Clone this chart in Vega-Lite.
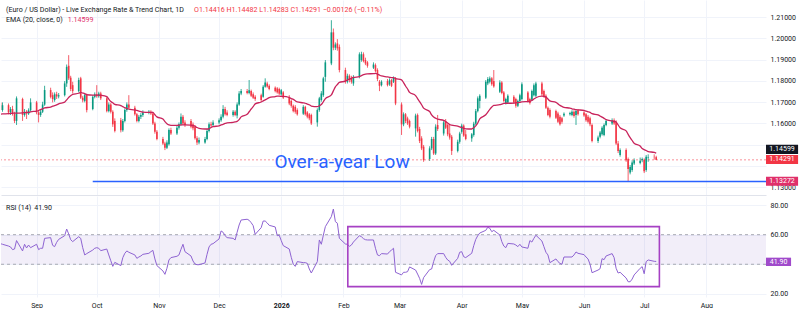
{
  "$schema": "https://vega.github.io/schema/vega-lite/v6.json",
  "padding": 0,
  "autosize": {"type": "pad"},
  "background": "white",
  "spacing": 1,
  "config": {
    "font": "Roboto",
    "view": {"stroke": null},
    "axis": {"labelFont": "Roboto", "labelFontSize": 7, "labelColor": "#131722", "labelOverlap": false},
    "scale": {"continuousPadding": 0}
  },
  "resolve": {"scale": {"x": "shared", "y": "independent"}},
  "datasets": {
    "bars": [
      {"d":"2025-08-14","o":1.1699,"h":1.1712,"l":1.1652,"c":1.1663,"e":1.1643,"r":53.9},
      {"d":"2025-08-15","o":1.1663,"h":1.1699,"l":1.1655,"c":1.1686,"e":1.1645,"r":53.5},
      {"d":"2025-08-18","o":1.1686,"h":1.1694,"l":1.1643,"c":1.1652,"e":1.1646,"r":52.3},
      {"d":"2025-08-19","o":1.1652,"h":1.1677,"l":1.1640,"c":1.1668,"e":1.1647,"r":51.7},
      {"d":"2025-08-20","o":1.1668,"h":1.1683,"l":1.1637,"c":1.1646,"e":1.1648,"r":49.9},
      {"d":"2025-08-21","o":1.1646,"h":1.1655,"l":1.1602,"c":1.1612,"e":1.1649,"r":50.3},
      {"d":"2025-08-22","o":1.1612,"h":1.1727,"l":1.1593,"c":1.1718,"e":1.1649,"r":56.0},
      {"d":"2025-08-25","o":1.1715,"h":1.1721,"l":1.1612,"c":1.1640,"e":1.1650,"r":49.0},
      {"d":"2025-08-26","o":1.1640,"h":1.1668,"l":1.1632,"c":1.1655,"e":1.1651,"r":53.5},
      {"d":"2025-08-27","o":1.1655,"h":1.1663,"l":1.1621,"c":1.1646,"e":1.1652,"r":51.0},
      {"d":"2025-08-28","o":1.1646,"h":1.1671,"l":1.1640,"c":1.1662,"e":1.1652,"r":53.0},
      {"d":"2025-08-29","o":1.1662,"h":1.1718,"l":1.1655,"c":1.1699,"e":1.1655,"r":51.2},
      {"d":"2025-09-01","o":1.1699,"h":1.1706,"l":1.1643,"c":1.1652,"e":1.1658,"r":53.5},
      {"d":"2025-09-02","o":1.1652,"h":1.1663,"l":1.1605,"c":1.1640,"e":1.1661,"r":49.9},
      {"d":"2025-09-03","o":1.1640,"h":1.1665,"l":1.1631,"c":1.1655,"e":1.1665,"r":50.8},
      {"d":"2025-09-04","o":1.1655,"h":1.1702,"l":1.1649,"c":1.1689,"e":1.1669,"r":50.8},
      {"d":"2025-09-05","o":1.1689,"h":1.1777,"l":1.1683,"c":1.1757,"e":1.1673,"r":57.5},
      {"d":"2025-09-08","o":1.1757,"h":1.1768,"l":1.1718,"c":1.1725,"e":1.1677,"r":58.0},
      {"d":"2025-09-09","o":1.1733,"h":1.1746,"l":1.1699,"c":1.1715,"e":1.1681,"r":52.8},
      {"d":"2025-09-10","o":1.1710,"h":1.1746,"l":1.1702,"c":1.1737,"e":1.1684,"r":51.9},
      {"d":"2025-09-11","o":1.1737,"h":1.1749,"l":1.1715,"c":1.1727,"e":1.1687,"r":54.8},
      {"d":"2025-09-12","o":1.1727,"h":1.1743,"l":1.1718,"c":1.1733,"e":1.1692,"r":56.8},
      {"d":"2025-09-15","o":1.1733,"h":1.1799,"l":1.1727,"c":1.1788,"e":1.1700,"r":59.3},
      {"d":"2025-09-16","o":1.1788,"h":1.1877,"l":1.1772,"c":1.1866,"e":1.1711,"r":63.8},
      {"d":"2025-09-17","o":1.1871,"h":1.1921,"l":1.1804,"c":1.1812,"e":1.1722,"r":60.5},
      {"d":"2025-09-18","o":1.1815,"h":1.1824,"l":1.1752,"c":1.1762,"e":1.1730,"r":56.6},
      {"d":"2025-09-19","o":1.1780,"h":1.1796,"l":1.1741,"c":1.1752,"e":1.1737,"r":55.3},
      {"d":"2025-09-22","o":1.1752,"h":1.1815,"l":1.1746,"c":1.1804,"e":1.1742,"r":58.6},
      {"d":"2025-09-23","o":1.1812,"h":1.1819,"l":1.1715,"c":1.1721,"e":1.1746,"r":57.5},
      {"d":"2025-09-24","o":1.1721,"h":1.1730,"l":1.1699,"c":1.1709,"e":1.1743,"r":51.2},
      {"d":"2025-09-25","o":1.1706,"h":1.1741,"l":1.1699,"c":1.1733,"e":1.1740,"r":46.3},
      {"d":"2025-09-26","o":1.1733,"h":1.1740,"l":1.1652,"c":1.1663,"e":1.1735,"r":47.2},
      {"d":"2025-09-29","o":1.1668,"h":1.1733,"l":1.1662,"c":1.1725,"e":1.1733,"r":49.6},
      {"d":"2025-09-30","o":1.1725,"h":1.1746,"l":1.1718,"c":1.1737,"e":1.1733,"r":50.8},
      {"d":"2025-10-01","o":1.1737,"h":1.1780,"l":1.1721,"c":1.1728,"e":1.1733,"r":51.2},
      {"d":"2025-10-02","o":1.1728,"h":1.1749,"l":1.1721,"c":1.1741,"e":1.1733,"r":50.8},
      {"d":"2025-10-03","o":1.1741,"h":1.1749,"l":1.1710,"c":1.1718,"e":1.1732,"r":49.2},
      {"d":"2025-10-06","o":1.1718,"h":1.1724,"l":1.1652,"c":1.1658,"e":1.1726,"r":50.3},
      {"d":"2025-10-07","o":1.1658,"h":1.1699,"l":1.1652,"c":1.1689,"e":1.1714,"r":46.3},
      {"d":"2025-10-08","o":1.1689,"h":1.1696,"l":1.1647,"c":1.1655,"e":1.1703,"r":42.4},
      {"d":"2025-10-09","o":1.1655,"h":1.1662,"l":1.1584,"c":1.1596,"e":1.1697,"r":38.6},
      {"d":"2025-10-10","o":1.1612,"h":1.1624,"l":1.1558,"c":1.1565,"e":1.1690,"r":41.3},
      {"d":"2025-10-13","o":1.1615,"h":1.1626,"l":1.1558,"c":1.1568,"e":1.1684,"r":39.1},
      {"d":"2025-10-14","o":1.1568,"h":1.1621,"l":1.1561,"c":1.1612,"e":1.1679,"r":44.5},
      {"d":"2025-10-15","o":1.1612,"h":1.1671,"l":1.1605,"c":1.1663,"e":1.1674,"r":47.4},
      {"d":"2025-10-16","o":1.1663,"h":1.1699,"l":1.1655,"c":1.1689,"e":1.1671,"r":49.0},
      {"d":"2025-10-17","o":1.1689,"h":1.1733,"l":1.1668,"c":1.1674,"e":1.1667,"r":48.1},
      {"d":"2025-10-20","o":1.1674,"h":1.1683,"l":1.1637,"c":1.1643,"e":1.1664,"r":46.3},
      {"d":"2025-10-21","o":1.1643,"h":1.1649,"l":1.1605,"c":1.1612,"e":1.1661,"r":44.0},
      {"d":"2025-10-22","o":1.1612,"h":1.1640,"l":1.1605,"c":1.1632,"e":1.1658,"r":44.9},
      {"d":"2025-10-23","o":1.1632,"h":1.1649,"l":1.1621,"c":1.1640,"e":1.1656,"r":45.6},
      {"d":"2025-10-24","o":1.1640,"h":1.1662,"l":1.1631,"c":1.1652,"e":1.1653,"r":46.7},
      {"d":"2025-10-27","o":1.1652,"h":1.1663,"l":1.1643,"c":1.1655,"e":1.1652,"r":47.4},
      {"d":"2025-10-28","o":1.1655,"h":1.1662,"l":1.1640,"c":1.1647,"e":1.1652,"r":48.5},
      {"d":"2025-10-29","o":1.1647,"h":1.1655,"l":1.1593,"c":1.1600,"e":1.1652,"r":49.4},
      {"d":"2025-10-30","o":1.1600,"h":1.1608,"l":1.1552,"c":1.1561,"e":1.1641,"r":43.6},
      {"d":"2025-10-31","o":1.1561,"h":1.1569,"l":1.1521,"c":1.1527,"e":1.1631,"r":39.1},
      {"d":"2025-11-03","o":1.1527,"h":1.1537,"l":1.1499,"c":1.1506,"e":1.1621,"r":35.5},
      {"d":"2025-11-04","o":1.1506,"h":1.1514,"l":1.1475,"c":1.1486,"e":1.1609,"r":33.2},
      {"d":"2025-11-05","o":1.1486,"h":1.1521,"l":1.1480,"c":1.1511,"e":1.1599,"r":37.3},
      {"d":"2025-11-06","o":1.1502,"h":1.1577,"l":1.1496,"c":1.1569,"e":1.1593,"r":42.9},
      {"d":"2025-11-07","o":1.1569,"h":1.1580,"l":1.1546,"c":1.1553,"e":1.1591,"r":44.5},
      {"d":"2025-11-10","o":1.1553,"h":1.1590,"l":1.1546,"c":1.1580,"e":1.1591,"r":45.4},
      {"d":"2025-11-11","o":1.1580,"h":1.1605,"l":1.1571,"c":1.1596,"e":1.1592,"r":46.3},
      {"d":"2025-11-12","o":1.1596,"h":1.1647,"l":1.1590,"c":1.1632,"e":1.1593,"r":50.1},
      {"d":"2025-11-13","o":1.1632,"h":1.1640,"l":1.1593,"c":1.1600,"e":1.1593,"r":53.5},
      {"d":"2025-11-14","o":1.1605,"h":1.1615,"l":1.1584,"c":1.1593,"e":1.1593,"r":48.5},
      {"d":"2025-11-17","o":1.1612,"h":1.1621,"l":1.1577,"c":1.1585,"e":1.1592,"r":45.6},
      {"d":"2025-11-18","o":1.1596,"h":1.1605,"l":1.1568,"c":1.1577,"e":1.1590,"r":42.2},
      {"d":"2025-11-19","o":1.1585,"h":1.1593,"l":1.1524,"c":1.1530,"e":1.1587,"r":40.2},
      {"d":"2025-11-20","o":1.1530,"h":1.1540,"l":1.1499,"c":1.1511,"e":1.1581,"r":39.7},
      {"d":"2025-11-21","o":1.1511,"h":1.1534,"l":1.1502,"c":1.1522,"e":1.1577,"r":39.7},
      {"d":"2025-11-24","o":1.1511,"h":1.1537,"l":1.1505,"c":1.1527,"e":1.1574,"r":40.9},
      {"d":"2025-11-25","o":1.1527,"h":1.1574,"l":1.1521,"c":1.1565,"e":1.1574,"r":46.7},
      {"d":"2025-11-26","o":1.1565,"h":1.1605,"l":1.1558,"c":1.1596,"e":1.1575,"r":51.7},
      {"d":"2025-11-27","o":1.1596,"h":1.1608,"l":1.1580,"c":1.1590,"e":1.1581,"r":53.5},
      {"d":"2025-11-28","o":1.1593,"h":1.1615,"l":1.1585,"c":1.1605,"e":1.1585,"r":53.9},
      {"d":"2025-12-01","o":1.1605,"h":1.1624,"l":1.1596,"c":1.1615,"e":1.1589,"r":57.1},
      {"d":"2025-12-02","o":1.1615,"h":1.1643,"l":1.1608,"c":1.1632,"e":1.1593,"r":62.5},
      {"d":"2025-12-03","o":1.1632,"h":1.1686,"l":1.1624,"c":1.1668,"e":1.1596,"r":61.6},
      {"d":"2025-12-04","o":1.1668,"h":1.1678,"l":1.1637,"c":1.1643,"e":1.1600,"r":59.3},
      {"d":"2025-12-05","o":1.1652,"h":1.1662,"l":1.1634,"c":1.1640,"e":1.1603,"r":58.0},
      {"d":"2025-12-08","o":1.1640,"h":1.1663,"l":1.1632,"c":1.1655,"e":1.1605,"r":57.5},
      {"d":"2025-12-09","o":1.1655,"h":1.1662,"l":1.1634,"c":1.1640,"e":1.1607,"r":56.4},
      {"d":"2025-12-10","o":1.1637,"h":1.1699,"l":1.1624,"c":1.1689,"e":1.1610,"r":61.6},
      {"d":"2025-12-11","o":1.1689,"h":1.1752,"l":1.1683,"c":1.1741,"e":1.1618,"r":66.5},
      {"d":"2025-12-12","o":1.1741,"h":1.1762,"l":1.1733,"c":1.1752,"e":1.1631,"r":69.9},
      {"d":"2025-12-15","o":1.1752,"h":1.1762,"l":1.1737,"c":1.1743,"e":1.1643,"r":70.4},
      {"d":"2025-12-16","o":1.1743,"h":1.1804,"l":1.1737,"c":1.1756,"e":1.1655,"r":69.7},
      {"d":"2025-12-17","o":1.1752,"h":1.1759,"l":1.1724,"c":1.1730,"e":1.1668,"r":68.1},
      {"d":"2025-12-18","o":1.1737,"h":1.1746,"l":1.1715,"c":1.1721,"e":1.1679,"r":66.1},
      {"d":"2025-12-19","o":1.1725,"h":1.1733,"l":1.1706,"c":1.1715,"e":1.1692,"r":60.2},
      {"d":"2025-12-22","o":1.1733,"h":1.1740,"l":1.1702,"c":1.1710,"e":1.1701,"r":64.7},
      {"d":"2025-12-23","o":1.1725,"h":1.1780,"l":1.1721,"c":1.1772,"e":1.1706,"r":69.2},
      {"d":"2025-12-24","o":1.1772,"h":1.1812,"l":1.1768,"c":1.1793,"e":1.1711,"r":69.2},
      {"d":"2025-12-25","o":1.1788,"h":1.1796,"l":1.1768,"c":1.1774,"e":1.1716,"r":67.9},
      {"d":"2025-12-26","o":1.1777,"h":1.1784,"l":1.1756,"c":1.1762,"e":1.1721,"r":66.3},
      {"d":"2025-12-29","o":1.1768,"h":1.1774,"l":1.1746,"c":1.1752,"e":1.1726,"r":65.2},
      {"d":"2025-12-30","o":1.1765,"h":1.1771,"l":1.1740,"c":1.1746,"e":1.1728,"r":59.3},
      {"d":"2025-12-31","o":1.1762,"h":1.1768,"l":1.1733,"c":1.1740,"e":1.1728,"r":59.6},
      {"d":"2026-01-01","o":1.1737,"h":1.1762,"l":1.1730,"c":1.1756,"e":1.1727,"r":56.0},
      {"d":"2026-01-02","o":1.1746,"h":1.1752,"l":1.1715,"c":1.1721,"e":1.1727,"r":52.6},
      {"d":"2026-01-05","o":1.1725,"h":1.1733,"l":1.1686,"c":1.1694,"e":1.1722,"r":50.3},
      {"d":"2026-01-06","o":1.1706,"h":1.1712,"l":1.1674,"c":1.1683,"e":1.1717,"r":44.7},
      {"d":"2026-01-07","o":1.1683,"h":1.1689,"l":1.1652,"c":1.1658,"e":1.1713,"r":40.0},
      {"d":"2026-01-08","o":1.1678,"h":1.1686,"l":1.1646,"c":1.1655,"e":1.1707,"r":38.6},
      {"d":"2026-01-09","o":1.1663,"h":1.1671,"l":1.1637,"c":1.1643,"e":1.1701,"r":41.8},
      {"d":"2026-01-12","o":1.1646,"h":1.1686,"l":1.1640,"c":1.1678,"e":1.1697,"r":41.1},
      {"d":"2026-01-13","o":1.1678,"h":1.1683,"l":1.1637,"c":1.1643,"e":1.1695,"r":41.1},
      {"d":"2026-01-14","o":1.1652,"h":1.1658,"l":1.1624,"c":1.1632,"e":1.1691,"r":40.6},
      {"d":"2026-01-15","o":1.1643,"h":1.1649,"l":1.1615,"c":1.1624,"e":1.1688,"r":36.8},
      {"d":"2026-01-16","o":1.1640,"h":1.1646,"l":1.1593,"c":1.1600,"e":1.1682,"r":34.1},
      {"d":"2026-01-19","o":1.1605,"h":1.1671,"l":1.1585,"c":1.1663,"e":1.1679,"r":41.8},
      {"d":"2026-01-20","o":1.1663,"h":1.1725,"l":1.1655,"c":1.1718,"e":1.1683,"r":56.4},
      {"d":"2026-01-21","o":1.1710,"h":1.1752,"l":1.1702,"c":1.1741,"e":1.1689,"r":53.5},
      {"d":"2026-01-22","o":1.1733,"h":1.1819,"l":1.1725,"c":1.1812,"e":1.1702,"r":59.6},
      {"d":"2026-01-23","o":1.1819,"h":1.1898,"l":1.1796,"c":1.1887,"e":1.1717,"r":65.4},
      {"d":"2026-01-26","o":1.1882,"h":1.2085,"l":1.1874,"c":1.2028,"e":1.1734,"r":72.2},
      {"d":"2026-01-27","o":1.2028,"h":1.2046,"l":1.1944,"c":1.1956,"e":1.1753,"r":77.3},
      {"d":"2026-01-28","o":1.1956,"h":1.1981,"l":1.1945,"c":1.1971,"e":1.1772,"r":68.8},
      {"d":"2026-01-29","o":1.1976,"h":1.1996,"l":1.1942,"c":1.1953,"e":1.1783,"r":67.7},
      {"d":"2026-01-30","o":1.1960,"h":1.1971,"l":1.1840,"c":1.1851,"e":1.1793,"r":57.5},
      {"d":"2026-02-02","o":1.1851,"h":1.1862,"l":1.1787,"c":1.1796,"e":1.1799,"r":53.7},
      {"d":"2026-02-03","o":1.1796,"h":1.1834,"l":1.1788,"c":1.1824,"e":1.1804,"r":53.5},
      {"d":"2026-02-04","o":1.1824,"h":1.1831,"l":1.1793,"c":1.1804,"e":1.1808,"r":52.1},
      {"d":"2026-02-05","o":1.1815,"h":1.1824,"l":1.1787,"c":1.1796,"e":1.1812,"r":53.0},
      {"d":"2026-02-06","o":1.1788,"h":1.1827,"l":1.1777,"c":1.1819,"e":1.1816,"r":55.0},
      {"d":"2026-02-09","o":1.1819,"h":1.1934,"l":1.1812,"c":1.1925,"e":1.1820,"r":59.3},
      {"d":"2026-02-10","o":1.1898,"h":1.1937,"l":1.1890,"c":1.1925,"e":1.1825,"r":58.6},
      {"d":"2026-02-11","o":1.1925,"h":1.1934,"l":1.1887,"c":1.1893,"e":1.1829,"r":57.3},
      {"d":"2026-02-12","o":1.1898,"h":1.1909,"l":1.1874,"c":1.1882,"e":1.1832,"r":56.6},
      {"d":"2026-02-13","o":1.1887,"h":1.1893,"l":1.1862,"c":1.1871,"e":1.1833,"r":56.4},
      {"d":"2026-02-16","o":1.1862,"h":1.1887,"l":1.1856,"c":1.1877,"e":1.1834,"r":56.4},
      {"d":"2026-02-17","o":1.1874,"h":1.1882,"l":1.1840,"c":1.1846,"e":1.1835,"r":50.8},
      {"d":"2026-02-18","o":1.1851,"h":1.1859,"l":1.1799,"c":1.1809,"e":1.1832,"r":46.3},
      {"d":"2026-02-19","o":1.1796,"h":1.1804,"l":1.1752,"c":1.1777,"e":1.1827,"r":45.8},
      {"d":"2026-02-20","o":1.1780,"h":1.1803,"l":1.1774,"c":1.1796,"e":1.1823,"r":47.2},
      {"d":"2026-02-23","o":1.1799,"h":1.1809,"l":1.1774,"c":1.1780,"e":1.1819,"r":46.9},
      {"d":"2026-02-24","o":1.1784,"h":1.1812,"l":1.1777,"c":1.1803,"e":1.1817,"r":48.5},
      {"d":"2026-02-25","o":1.1803,"h":1.1809,"l":1.1771,"c":1.1777,"e":1.1815,"r":49.6},
      {"d":"2026-02-26","o":1.1796,"h":1.1821,"l":1.1790,"c":1.1815,"e":1.1815,"r":50.8},
      {"d":"2026-02-27","o":1.1812,"h":1.1818,"l":1.1686,"c":1.1694,"e":1.1811,"r":34.6},
      {"d":"2026-03-02","o":1.1689,"h":1.1699,"l":1.1546,"c":1.1596,"e":1.1805,"r":32.8},
      {"d":"2026-03-03","o":1.1596,"h":1.1652,"l":1.1587,"c":1.1643,"e":1.1792,"r":34.6},
      {"d":"2026-03-04","o":1.1643,"h":1.1649,"l":1.1602,"c":1.1612,"e":1.1776,"r":34.6},
      {"d":"2026-03-05","o":1.1624,"h":1.1632,"l":1.1593,"c":1.1600,"e":1.1762,"r":35.0},
      {"d":"2026-03-06","o":1.1612,"h":1.1618,"l":1.1577,"c":1.1585,"e":1.1746,"r":38.2},
      {"d":"2026-03-09","o":1.1577,"h":1.1646,"l":1.1538,"c":1.1637,"e":1.1731,"r":36.1},
      {"d":"2026-03-10","o":1.1640,"h":1.1647,"l":1.1558,"c":1.1565,"e":1.1717,"r":33.4},
      {"d":"2026-03-11","o":1.1574,"h":1.1584,"l":1.1508,"c":1.1518,"e":1.1703,"r":30.5},
      {"d":"2026-03-12","o":1.1530,"h":1.1540,"l":1.1475,"c":1.1483,"e":1.1688,"r":26.4},
      {"d":"2026-03-13","o":1.1491,"h":1.1499,"l":1.1420,"c":1.1428,"e":1.1672,"r":31.0},
      {"d":"2026-03-16","o":1.1433,"h":1.1493,"l":1.1424,"c":1.1483,"e":1.1656,"r":36.4},
      {"d":"2026-03-17","o":1.1483,"h":1.1537,"l":1.1475,"c":1.1527,"e":1.1640,"r":36.8},
      {"d":"2026-03-18","o":1.1527,"h":1.1537,"l":1.1452,"c":1.1459,"e":1.1630,"r":41.8},
      {"d":"2026-03-19","o":1.1459,"h":1.1596,"l":1.1452,"c":1.1585,"e":1.1625,"r":45.8},
      {"d":"2026-03-20","o":1.1593,"h":1.1640,"l":1.1565,"c":1.1574,"e":1.1620,"r":47.2},
      {"d":"2026-03-23","o":1.1553,"h":1.1615,"l":1.1543,"c":1.1605,"e":1.1615,"r":47.2},
      {"d":"2026-03-24","o":1.1612,"h":1.1621,"l":1.1574,"c":1.1580,"e":1.1609,"r":44.7},
      {"d":"2026-03-25","o":1.1593,"h":1.1599,"l":1.1540,"c":1.1549,"e":1.1602,"r":42.9},
      {"d":"2026-03-26","o":1.1553,"h":1.1596,"l":1.1524,"c":1.1534,"e":1.1595,"r":42.0},
      {"d":"2026-03-27","o":1.1538,"h":1.1546,"l":1.1452,"c":1.1471,"e":1.1592,"r":39.3},
      {"d":"2026-03-30","o":1.1471,"h":1.1524,"l":1.1464,"c":1.1514,"e":1.1588,"r":44.0},
      {"d":"2026-03-31","o":1.1514,"h":1.1561,"l":1.1505,"c":1.1553,"e":1.1584,"r":48.1},
      {"d":"2026-04-01","o":1.1561,"h":1.1599,"l":1.1552,"c":1.1590,"e":1.1580,"r":48.5},
      {"d":"2026-04-02","o":1.1590,"h":1.1596,"l":1.1537,"c":1.1543,"e":1.1577,"r":45.1},
      {"d":"2026-04-03","o":1.1549,"h":1.1569,"l":1.1521,"c":1.1527,"e":1.1575,"r":44.5},
      {"d":"2026-04-06","o":1.1530,"h":1.1555,"l":1.1514,"c":1.1549,"e":1.1574,"r":47.4},
      {"d":"2026-04-07","o":1.1546,"h":1.1608,"l":1.1538,"c":1.1599,"e":1.1580,"r":52.6},
      {"d":"2026-04-08","o":1.1599,"h":1.1668,"l":1.1593,"c":1.1658,"e":1.1589,"r":56.8},
      {"d":"2026-04-09","o":1.1658,"h":1.1727,"l":1.1652,"c":1.1718,"e":1.1602,"r":59.3},
      {"d":"2026-04-10","o":1.1706,"h":1.1737,"l":1.1671,"c":1.1730,"e":1.1622,"r":61.1},
      {"d":"2026-04-13","o":1.1721,"h":1.1804,"l":1.1715,"c":1.1796,"e":1.1641,"r":62.9},
      {"d":"2026-04-14","o":1.1788,"h":1.1818,"l":1.1780,"c":1.1809,"e":1.1653,"r":65.0},
      {"d":"2026-04-15","o":1.1796,"h":1.1821,"l":1.1788,"c":1.1812,"e":1.1666,"r":64.3},
      {"d":"2026-04-16","o":1.1812,"h":1.1818,"l":1.1777,"c":1.1784,"e":1.1677,"r":62.0},
      {"d":"2026-04-17","o":1.1799,"h":1.1851,"l":1.1768,"c":1.1774,"e":1.1685,"r":62.9},
      {"d":"2026-04-20","o":1.1749,"h":1.1803,"l":1.1743,"c":1.1793,"e":1.1688,"r":59.8},
      {"d":"2026-04-21","o":1.1793,"h":1.1799,"l":1.1737,"c":1.1743,"e":1.1691,"r":55.3},
      {"d":"2026-04-22","o":1.1746,"h":1.1752,"l":1.1699,"c":1.1706,"e":1.1694,"r":52.3},
      {"d":"2026-04-23","o":1.1696,"h":1.1721,"l":1.1689,"c":1.1715,"e":1.1695,"r":51.2},
      {"d":"2026-04-24","o":1.1699,"h":1.1737,"l":1.1692,"c":1.1730,"e":1.1695,"r":54.1},
      {"d":"2026-04-27","o":1.1725,"h":1.1733,"l":1.1692,"c":1.1699,"e":1.1696,"r":53.7},
      {"d":"2026-04-28","o":1.1715,"h":1.1721,"l":1.1674,"c":1.1683,"e":1.1697,"r":53.0},
      {"d":"2026-04-29","o":1.1683,"h":1.1712,"l":1.1677,"c":1.1706,"e":1.1698,"r":51.9},
      {"d":"2026-04-30","o":1.1706,"h":1.1740,"l":1.1699,"c":1.1733,"e":1.1699,"r":53.5},
      {"d":"2026-05-01","o":1.1715,"h":1.1793,"l":1.1709,"c":1.1784,"e":1.1701,"r":51.7},
      {"d":"2026-05-04","o":1.1746,"h":1.1752,"l":1.1699,"c":1.1706,"e":1.1703,"r":50.8},
      {"d":"2026-05-05","o":1.1715,"h":1.1721,"l":1.1689,"c":1.1696,"e":1.1704,"r":56.0},
      {"d":"2026-05-06","o":1.1712,"h":1.1759,"l":1.1706,"c":1.1752,"e":1.1708,"r":55.0},
      {"d":"2026-05-07","o":1.1733,"h":1.1788,"l":1.1727,"c":1.1780,"e":1.1715,"r":57.5},
      {"d":"2026-05-08","o":1.1730,"h":1.1796,"l":1.1724,"c":1.1788,"e":1.1721,"r":59.6},
      {"d":"2026-05-11","o":1.1788,"h":1.1796,"l":1.1730,"c":1.1737,"e":1.1728,"r":55.7},
      {"d":"2026-05-12","o":1.1752,"h":1.1759,"l":1.1721,"c":1.1727,"e":1.1727,"r":51.9},
      {"d":"2026-05-13","o":1.1730,"h":1.1737,"l":1.1668,"c":1.1674,"e":1.1724,"r":48.1},
      {"d":"2026-05-14","o":1.1674,"h":1.1680,"l":1.1634,"c":1.1640,"e":1.1715,"r":46.3},
      {"d":"2026-05-15","o":1.1663,"h":1.1671,"l":1.1624,"c":1.1632,"e":1.1706,"r":41.1},
      {"d":"2026-05-18","o":1.1658,"h":1.1665,"l":1.1621,"c":1.1627,"e":1.1699,"r":43.6},
      {"d":"2026-05-19","o":1.1647,"h":1.1655,"l":1.1602,"c":1.1608,"e":1.1692,"r":41.8},
      {"d":"2026-05-20","o":1.1632,"h":1.1640,"l":1.1590,"c":1.1596,"e":1.1685,"r":40.6},
      {"d":"2026-05-21","o":1.1624,"h":1.1631,"l":1.1599,"c":1.1608,"e":1.1680,"r":40.0},
      {"d":"2026-05-22","o":1.1637,"h":1.1652,"l":1.1631,"c":1.1646,"e":1.1676,"r":44.9},
      {"d":"2026-05-25","o":1.1643,"h":1.1655,"l":1.1637,"c":1.1649,"e":1.1672,"r":44.9},
      {"d":"2026-05-26","o":1.1640,"h":1.1662,"l":1.1634,"c":1.1655,"e":1.1669,"r":44.9},
      {"d":"2026-05-27","o":1.1655,"h":1.1662,"l":1.1627,"c":1.1635,"e":1.1667,"r":46.3},
      {"d":"2026-05-28","o":1.1640,"h":1.1665,"l":1.1593,"c":1.1658,"e":1.1665,"r":48.3},
      {"d":"2026-05-29","o":1.1662,"h":1.1668,"l":1.1637,"c":1.1643,"e":1.1664,"r":47.4},
      {"d":"2026-06-01","o":1.1652,"h":1.1658,"l":1.1631,"c":1.1637,"e":1.1661,"r":46.5},
      {"d":"2026-06-02","o":1.1643,"h":1.1649,"l":1.1608,"c":1.1615,"e":1.1658,"r":44.9},
      {"d":"2026-06-03","o":1.1632,"h":1.1640,"l":1.1600,"c":1.1608,"e":1.1655,"r":43.6},
      {"d":"2026-06-04","o":1.1624,"h":1.1632,"l":1.1587,"c":1.1596,"e":1.1652,"r":40.0},
      {"d":"2026-06-05","o":1.1593,"h":1.1600,"l":1.1511,"c":1.1518,"e":1.1646,"r":34.3},
      {"d":"2026-06-08","o":1.1518,"h":1.1543,"l":1.1508,"c":1.1534,"e":1.1640,"r":36.1},
      {"d":"2026-06-09","o":1.1538,"h":1.1565,"l":1.1530,"c":1.1558,"e":1.1635,"r":37.0},
      {"d":"2026-06-10","o":1.1549,"h":1.1587,"l":1.1543,"c":1.1580,"e":1.1630,"r":43.8},
      {"d":"2026-06-11","o":1.1546,"h":1.1600,"l":1.1540,"c":1.1593,"e":1.1624,"r":43.1},
      {"d":"2026-06-12","o":1.1593,"h":1.1621,"l":1.1587,"c":1.1612,"e":1.1618,"r":45.6},
      {"d":"2026-06-15","o":1.1600,"h":1.1624,"l":1.1593,"c":1.1615,"e":1.1612,"r":47.2},
      {"d":"2026-06-16","o":1.1615,"h":1.1624,"l":1.1593,"c":1.1600,"e":1.1610,"r":44.5},
      {"d":"2026-06-17","o":1.1608,"h":1.1615,"l":1.1499,"c":1.1506,"e":1.1607,"r":37.3},
      {"d":"2026-06-18","o":1.1506,"h":1.1518,"l":1.1461,"c":1.1471,"e":1.1593,"r":34.1},
      {"d":"2026-06-19","o":1.1452,"h":1.1483,"l":1.1444,"c":1.1475,"e":1.1580,"r":34.6},
      {"d":"2026-06-22","o":1.1475,"h":1.1483,"l":1.1420,"c":1.1427,"e":1.1565,"r":30.7},
      {"d":"2026-06-23","o":1.1433,"h":1.1440,"l":1.1328,"c":1.1386,"e":1.1549,"r":28.2},
      {"d":"2026-06-24","o":1.1370,"h":1.1405,"l":1.1361,"c":1.1396,"e":1.1534,"r":28.2},
      {"d":"2026-06-25","o":1.1381,"h":1.1427,"l":1.1373,"c":1.1417,"e":1.1520,"r":30.0},
      {"d":"2026-06-26","o":1.1412,"h":1.1436,"l":1.1405,"c":1.1427,"e":1.1507,"r":32.8},
      {"d":"2026-06-29","o":1.1414,"h":1.1440,"l":1.1408,"c":1.1425,"e":1.1494,"r":37.3},
      {"d":"2026-06-30","o":1.1427,"h":1.1440,"l":1.1418,"c":1.1433,"e":1.1482,"r":38.4},
      {"d":"2026-07-01","o":1.1430,"h":1.1436,"l":1.1367,"c":1.1376,"e":1.1477,"r":33.6},
      {"d":"2026-07-02","o":1.1381,"h":1.1452,"l":1.1373,"c":1.1444,"e":1.1473,"r":41.8},
      {"d":"2026-07-03","o":1.1440,"h":1.1455,"l":1.1420,"c":1.1443,"e":1.1468,"r":42.9},
      {"d":"2026-07-06","o":1.1443,"h":1.1455,"l":1.1430,"c":1.1442,"e":1.1464,"r":42.0},
      {"d":"2026-07-07","o":1.14416,"h":1.14482,"l":1.14283,"c":1.14291,"e":1.14599,"r":41.9}
    ]
  },
  "vconcat": [
    {
      "width": 765,
      "height": 195,
      "layer": [
        {
          "data": {"name": "bars"},
          "mark": {"type": "rule", "strokeWidth": 0.8, "clip": true},
          "encoding": {
            "x": {"field": "d", "type": "temporal",
              "scale": {"type": "utc", "nice": false, "padding": 0, "domain": [{"year": 2025, "month": 8, "date": 14, "hours": 6, "utc": true}, {"year": 2026, "month": 8, "date": 30, "hours": 18, "utc": true}]},
              "axis": {"title": null, "labels": false, "ticks": false, "domain": true, "domainColor": "#E0E3EB", "grid": true, "gridColor": "#F0F3FA", "tickCount": {"interval": "month", "step": 1}}},
            "y": {"field": "l", "type": "quantitative",
              "scale": {"domain": [1.1264, 1.218], "zero": false, "nice": false, "padding": 0},
              "axis": {"title": null, "orient": "right", "values": [1.13, 1.14, 1.15, 1.16, 1.17, 1.18, 1.19, 1.2, 1.21], "format": ".5f", "labelOverlap": false, "labelExpr": "abs(datum.value - 1.14) < 0.001 || abs(datum.value - 1.15) < 0.001 ? '' : datum.label", "grid": true, "gridColor": "#F0F3FA", "ticks": false, "domain": false, "labelPadding": 4}},
            "y2": {"field": "h"},
            "color": {"condition": {"test": "datum.c >= datum.o", "value": "#089981"}, "value": "#F23645"}
          }
        },
        {
          "data": {"values": [{}]},
          "mark": {"type": "rule", "color": "#F23645", "strokeDash": [2, 2], "strokeWidth": 1, "opacity": 0.55},
          "encoding": {"y": {"datum": 1.14291, "type": "quantitative",
            "axis": {"title": null, "orient": "right", "values": [1.13, 1.14, 1.15, 1.16, 1.17, 1.18, 1.19, 1.2, 1.21], "format": ".5f", "labelOverlap": false, "labelExpr": "abs(datum.value - 1.14) < 0.001 || abs(datum.value - 1.15) < 0.001 ? '' : datum.label", "grid": true, "gridColor": "#F0F3FA", "ticks": false, "domain": false, "labelPadding": 4}}}
        },
        {
          "data": {"name": "bars"},
          "mark": {"type": "bar", "size": 1.6, "clip": true},
          "encoding": {
            "x": {"field": "d", "type": "temporal",
              "scale": {"type": "utc", "nice": false, "padding": 0, "domain": [{"year": 2025, "month": 8, "date": 14, "hours": 6, "utc": true}, {"year": 2026, "month": 8, "date": 30, "hours": 18, "utc": true}]}},
            "y": {"field": "o", "type": "quantitative",
              "axis": {"title": null, "orient": "right", "values": [1.13, 1.14, 1.15, 1.16, 1.17, 1.18, 1.19, 1.2, 1.21], "format": ".5f", "labelOverlap": false, "labelExpr": "abs(datum.value - 1.14) < 0.001 || abs(datum.value - 1.15) < 0.001 ? '' : datum.label", "grid": true, "gridColor": "#F0F3FA", "ticks": false, "domain": false, "labelPadding": 4}},
            "y2": {"field": "c"},
            "color": {"condition": {"test": "datum.c >= datum.o", "value": "#089981"}, "value": "#F23645"}
          }
        },
        {
          "data": {"name": "bars"},
          "mark": {"type": "line", "color": "#C8235B", "strokeWidth": 1.3, "clip": true, "interpolate": "monotone"},
          "encoding": {
            "x": {"field": "d", "type": "temporal",
              "scale": {"type": "utc", "nice": false, "padding": 0, "domain": [{"year": 2025, "month": 8, "date": 14, "hours": 6, "utc": true}, {"year": 2026, "month": 8, "date": 30, "hours": 18, "utc": true}]}},
            "y": {"field": "e", "type": "quantitative",
              "axis": {"title": null, "orient": "right", "values": [1.13, 1.14, 1.15, 1.16, 1.17, 1.18, 1.19, 1.2, 1.21], "format": ".5f", "labelOverlap": false, "labelExpr": "abs(datum.value - 1.14) < 0.001 || abs(datum.value - 1.15) < 0.001 ? '' : datum.label", "grid": true, "gridColor": "#F0F3FA", "ticks": false, "domain": false, "labelPadding": 4}}
          }
        },
        {
          "data": {"values": [{"txt": "Over-a-year Low"}]},
          "mark": {"type": "text", "font": "Roboto", "fontSize": 19, "color": "#2962FF", "align": "center", "baseline": "middle"},
          "encoding": {
            "x": {"datum": {"year": 2026, "month": 1, "date": 31, "hours": 8, "utc": true}, "type": "temporal",
              "scale": {"type": "utc", "nice": false, "padding": 0, "domain": [{"year": 2025, "month": 8, "date": 14, "hours": 6, "utc": true}, {"year": 2026, "month": 8, "date": 30, "hours": 18, "utc": true}]}},
            "y": {"datum": 1.1418, "type": "quantitative",
              "axis": {"title": null, "orient": "right", "values": [1.13, 1.14, 1.15, 1.16, 1.17, 1.18, 1.19, 1.2, 1.21], "format": ".5f", "labelOverlap": false, "labelExpr": "abs(datum.value - 1.14) < 0.001 || abs(datum.value - 1.15) < 0.001 ? '' : datum.label", "grid": true, "gridColor": "#F0F3FA", "ticks": false, "domain": false, "labelPadding": 4}},
            "text": {"field": "txt"}
          }
        },
        {
          "data": {"values": [{}]},
          "mark": {"type": "rule", "color": "#2962FF", "strokeWidth": 1.5},
          "encoding": {
            "x": {"datum": {"year": 2025, "month": 9, "date": 29, "utc": true}, "type": "temporal",
              "scale": {"type": "utc", "nice": false, "padding": 0, "domain": [{"year": 2025, "month": 8, "date": 14, "hours": 6, "utc": true}, {"year": 2026, "month": 8, "date": 30, "hours": 18, "utc": true}]}},
            "x2": {"datum": {"year": 2026, "month": 8, "date": 30, "hours": 18, "utc": true}},
            "y": {"datum": 1.13272, "type": "quantitative",
              "axis": {"title": null, "orient": "right", "values": [1.13, 1.14, 1.15, 1.16, 1.17, 1.18, 1.19, 1.2, 1.21], "format": ".5f", "labelOverlap": false, "labelExpr": "abs(datum.value - 1.14) < 0.001 || abs(datum.value - 1.15) < 0.001 ? '' : datum.label", "grid": true, "gridColor": "#F0F3FA", "ticks": false, "domain": false, "labelPadding": 4}}
          }
        },
        {
          "data": {"values": [
            {"t": "(Euro / US Dollar) - Live Exchange Rate & Trend Chart, 1D", "k": "dark", "x": "2025-08-16T18:00:00Z", "p": 1.21329},
            {"t": "O1.14416  H1.14482  L1.14283  C1.14291  −0.00126 (−0.11%)", "k": "red", "x": "2025-11-18T13:00:00Z", "p": 1.21329},
            {"t": "EMA (20, close, 0)", "k": "dark", "x": "2025-08-16T18:00:00Z", "p": 1.20859},
            {"t": "1.14599", "k": "pink", "x": "2025-09-16T12:00:00Z", "p": 1.20859}
          ]},
          "mark": {"type": "text", "fontSize": 7.1, "align": "left", "baseline": "middle"},
          "encoding": {
            "x": {"field": "x", "type": "temporal",
              "scale": {"type": "utc", "nice": false, "padding": 0, "domain": [{"year": 2025, "month": 8, "date": 14, "hours": 6, "utc": true}, {"year": 2026, "month": 8, "date": 30, "hours": 18, "utc": true}]}},
            "y": {"field": "p", "type": "quantitative",
              "axis": {"title": null, "orient": "right", "values": [1.13, 1.14, 1.15, 1.16, 1.17, 1.18, 1.19, 1.2, 1.21], "format": ".5f", "labelOverlap": false, "labelExpr": "abs(datum.value - 1.14) < 0.001 || abs(datum.value - 1.15) < 0.001 ? '' : datum.label", "grid": true, "gridColor": "#F0F3FA", "ticks": false, "domain": false, "labelPadding": 4}},
            "text": {"field": "t"},
            "color": {"field": "k", "type": "nominal", "scale": {"domain": ["dark", "red", "pink"], "range": ["#131722", "#F23645", "#E0306A"]}, "legend": null}
          }
        },
        {
          "data": {"values": [
            {"v": "1.14599", "k": "ema", "top": 1.15, "bot": 1.14568, "mid": 1.14784},
            {"v": "1.14291", "k": "last", "top": 1.14521, "bot": 1.14099, "mid": 1.1431},
            {"v": "1.13272", "k": "low", "top": 1.13502, "bot": 1.1308, "mid": 1.13291}
          ]},
          "layer": [
            {
              "mark": {"type": "rect"},
              "encoding": {
                "x": {"datum": {"year": 2026, "month": 8, "date": 30, "hours": 18, "utc": true}, "type": "temporal",
                  "scale": {"type": "utc", "nice": false, "padding": 0, "domain": [{"year": 2025, "month": 8, "date": 14, "hours": 6, "utc": true}, {"year": 2026, "month": 8, "date": 30, "hours": 18, "utc": true}]}},
                "x2": {"datum": {"year": 2026, "month": 9, "date": 15, "hours": 18, "utc": true}},
                "y": {"field": "top", "type": "quantitative",
                  "axis": {"title": null, "orient": "right", "values": [1.13, 1.14, 1.15, 1.16, 1.17, 1.18, 1.19, 1.2, 1.21], "format": ".5f", "labelOverlap": false, "labelExpr": "abs(datum.value - 1.14) < 0.001 || abs(datum.value - 1.15) < 0.001 ? '' : datum.label", "grid": true, "gridColor": "#F0F3FA", "ticks": false, "domain": false, "labelPadding": 4}},
                "y2": {"field": "bot"},
                "color": {"field": "k", "type": "nominal", "scale": {"domain": ["ema", "last", "low"], "range": ["#C8235B", "#F23645", "#2962FF"]}, "legend": null}
              }
            },
            {
              "mark": {"type": "text", "fontSize": 7, "color": "white", "align": "center", "baseline": "middle"},
              "encoding": {
                "x": {"datum": {"year": 2026, "month": 9, "date": 7, "hours": 18, "utc": true}, "type": "temporal",
                  "scale": {"type": "utc", "nice": false, "padding": 0, "domain": [{"year": 2025, "month": 8, "date": 14, "hours": 6, "utc": true}, {"year": 2026, "month": 8, "date": 30, "hours": 18, "utc": true}]}},
                "y": {"field": "mid", "type": "quantitative",
                  "axis": {"title": null, "orient": "right", "values": [1.13, 1.14, 1.15, 1.16, 1.17, 1.18, 1.19, 1.2, 1.21], "format": ".5f", "labelOverlap": false, "labelExpr": "abs(datum.value - 1.14) < 0.001 || abs(datum.value - 1.15) < 0.001 ? '' : datum.label", "grid": true, "gridColor": "#F0F3FA", "ticks": false, "domain": false, "labelPadding": 4}},
                "text": {"field": "v"}
              }
            }
          ]
        }
      ]
    },
    {
      "width": 765,
      "height": 101,
      "layer": [
        {
          "data": {"values": [{"a": 60, "b": 40}]},
          "mark": {"type": "rect", "color": "#7E57C2", "opacity": 0.1},
          "encoding": {
            "y": {"field": "a", "type": "quantitative",
              "scale": {"domain": [17.9, 86.1], "zero": false, "nice": false},
              "axis": {"title": null, "orient": "right", "values": [20, 40, 60, 80], "format": ".2f", "labelOverlap": false, "labelExpr": "datum.value == 40 ? '' : datum.label", "grid": true, "gridColor": "#F0F3FA", "ticks": false, "domain": false, "labelPadding": 4}},
            "y2": {"field": "b"}
          }
        },
        {
          "data": {"values": [{"v": 60}, {"v": 40}]},
          "mark": {"type": "rule", "color": "#9598A1", "strokeDash": [3, 3], "strokeWidth": 0.8},
          "encoding": {"y": {"field": "v", "type": "quantitative",
            "axis": {"title": null, "orient": "right", "values": [20, 40, 60, 80], "format": ".2f", "labelOverlap": false, "labelExpr": "datum.value == 40 ? '' : datum.label", "grid": true, "gridColor": "#F0F3FA", "ticks": false, "domain": false, "labelPadding": 4}}}
        },
        {
          "data": {"name": "bars"},
          "mark": {"type": "line", "color": "#8E63D2", "strokeWidth": 1, "clip": true},
          "encoding": {
            "x": {"field": "d", "type": "temporal",
              "scale": {"type": "utc", "nice": false, "padding": 0, "domain": [{"year": 2025, "month": 8, "date": 14, "hours": 6, "utc": true}, {"year": 2026, "month": 8, "date": 30, "hours": 18, "utc": true}]},
              "axis": {"title": null, "grid": true, "gridColor": "#F0F3FA", "ticks": false, "domain": false, "labelPadding": 4, "tickCount": {"interval": "month", "step": 1},
                "labelExpr": "utcmonth(datum.value) == 0 ? utcFormat(datum.value, '%Y') : utcFormat(datum.value, '%b')",
                "labelFontWeight": {"condition": {"test": "utcmonth(datum.value) == 0", "value": "bold"}, "value": "normal"}}},
            "y": {"field": "r", "type": "quantitative",
              "axis": {"title": null, "orient": "right", "values": [20, 40, 60, 80], "format": ".2f", "labelOverlap": false, "labelExpr": "datum.value == 40 ? '' : datum.label", "grid": true, "gridColor": "#F0F3FA", "ticks": false, "domain": false, "labelPadding": 4}}
          }
        },
        {
          "data": {"values": [{"s": "2026-02-03T05:00:00Z", "e": "2026-07-08T14:00:00Z", "hi": 65.4, "lo": 24.9}]},
          "mark": {"type": "rect", "fill": null, "fillOpacity": 0, "stroke": "#A641C4", "strokeWidth": 1.6},
          "encoding": {
            "x": {"field": "s", "type": "temporal",
              "scale": {"type": "utc", "nice": false, "padding": 0, "domain": [{"year": 2025, "month": 8, "date": 14, "hours": 6, "utc": true}, {"year": 2026, "month": 8, "date": 30, "hours": 18, "utc": true}]}},
            "x2": {"field": "e"},
            "y": {"field": "hi", "type": "quantitative",
              "axis": {"title": null, "orient": "right", "values": [20, 40, 60, 80], "format": ".2f", "labelOverlap": false, "labelExpr": "datum.value == 40 ? '' : datum.label", "grid": true, "gridColor": "#F0F3FA", "ticks": false, "domain": false, "labelPadding": 4}},
            "y2": {"field": "lo"}
          }
        },
        {
          "data": {"values": [
            {"t": "RSI (14)", "k": "dark", "x": "2025-08-16T18:00:00Z", "p": 78.2},
            {"t": "41.90", "k": "purple", "x": "2025-08-30T20:00:00Z", "p": 78.2}
          ]},
          "mark": {"type": "text", "fontSize": 7.1, "align": "left", "baseline": "middle"},
          "encoding": {
            "x": {"field": "x", "type": "temporal",
              "scale": {"type": "utc", "nice": false, "padding": 0, "domain": [{"year": 2025, "month": 8, "date": 14, "hours": 6, "utc": true}, {"year": 2026, "month": 8, "date": 30, "hours": 18, "utc": true}]}},
            "y": {"field": "p", "type": "quantitative",
              "axis": {"title": null, "orient": "right", "values": [20, 40, 60, 80], "format": ".2f", "labelOverlap": false, "labelExpr": "datum.value == 40 ? '' : datum.label", "grid": true, "gridColor": "#F0F3FA", "ticks": false, "domain": false, "labelPadding": 4}},
            "text": {"field": "t"},
            "color": {"field": "k", "type": "nominal", "scale": {"domain": ["dark", "purple"], "range": ["#131722", "#7E57C2"]}, "legend": null}
          }
        },
        {
          "data": {"values": [{"v": "41.90", "top": 44.46, "bot": 38.85, "mid": 41.66}]},
          "layer": [
            {
              "mark": {"type": "rect", "color": "#A04ACB"},
              "encoding": {
                "x": {"datum": {"year": 2026, "month": 8, "date": 30, "hours": 18, "utc": true}, "type": "temporal",
                  "scale": {"type": "utc", "nice": false, "padding": 0, "domain": [{"year": 2025, "month": 8, "date": 14, "hours": 6, "utc": true}, {"year": 2026, "month": 8, "date": 30, "hours": 18, "utc": true}]}},
                "x2": {"datum": {"year": 2026, "month": 9, "date": 12, "hours": 6, "utc": true}},
                "y": {"field": "top", "type": "quantitative",
                  "axis": {"title": null, "orient": "right", "values": [20, 40, 60, 80], "format": ".2f", "labelOverlap": false, "labelExpr": "datum.value == 40 ? '' : datum.label", "grid": true, "gridColor": "#F0F3FA", "ticks": false, "domain": false, "labelPadding": 4}},
                "y2": {"field": "bot"}
              }
            },
            {
              "mark": {"type": "text", "fontSize": 7, "color": "white", "align": "center", "baseline": "middle"},
              "encoding": {
                "x": {"datum": {"year": 2026, "month": 9, "date": 6, "utc": true}, "type": "temporal",
                  "scale": {"type": "utc", "nice": false, "padding": 0, "domain": [{"year": 2025, "month": 8, "date": 14, "hours": 6, "utc": true}, {"year": 2026, "month": 8, "date": 30, "hours": 18, "utc": true}]}},
                "y": {"field": "mid", "type": "quantitative",
                  "axis": {"title": null, "orient": "right", "values": [20, 40, 60, 80], "format": ".2f", "labelOverlap": false, "labelExpr": "datum.value == 40 ? '' : datum.label", "grid": true, "gridColor": "#F0F3FA", "ticks": false, "domain": false, "labelPadding": 4}},
                "text": {"field": "v"}
              }
            }
          ]
        }
      ]
    }
  ]
}
